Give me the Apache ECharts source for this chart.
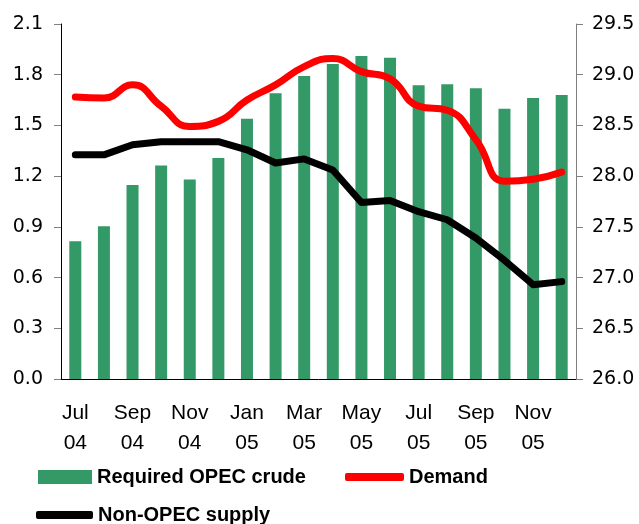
<!DOCTYPE html>
<html>
<head>
<meta charset="utf-8">
<script src="https://cdn.jsdelivr.net/npm/echarts@6/dist/echarts.min.js"></script>
<style>
html,body{margin:0;padding:0;background:#fff;}
#chart{width:639px;height:524px;}
</style>
</head>
<body>
<div id="chart"></div>
<script>
const categories = ['Jul 04','Aug 04','Sep 04','Oct 04','Nov 04','Dec 04','Jan 05','Feb 05','Mar 05','Apr 05','May 05','Jun 05','Jul 05','Aug 05','Sep 05','Oct 05','Nov 05','Dec 05'];
const requiredOpec = [0.815,0.904,1.147,1.263,1.18,1.307,1.539,1.691,1.792,1.863,1.911,1.90,1.738,1.744,1.72,1.599,1.662,1.68];
const demand = [28.78,28.77,28.90,28.69,28.49,28.54,28.75,28.90,29.08,29.16,29.03,28.96,28.69,28.65,28.36,27.95,27.97,28.04];
const nonOpec = [28.21,28.21,28.31,28.34,28.34,28.34,28.26,28.13,28.17,28.06,27.74,27.76,27.65,27.57,27.39,27.17,26.93,26.96];
const leftTicks = {min:0, max:2.1, interval:0.3};
const rightTicks = {min:26, max:29.5, interval:0.5};

const chart = echarts.init(document.getElementById('chart'));
const legendText = {fontFamily:'Liberation Sans, Arial', fontSize:20, fontWeight:'bold', color:'#000'};
chart.setOption({
  animation:false,
  grid:{left:61, right:63, top:24, bottom:145, containLabel:false},
  legend:[
    {data:[{name:'Required OPEC crude', icon:'rect'}], left:38, top:467, padding:0, itemWidth:54, itemHeight:14, itemGap:5, textStyle:legendText},
    {data:[{name:'Demand', icon:'roundRect'}], left:345, top:467, padding:0, itemWidth:59, itemHeight:8, textStyle:legendText},
    {data:[{name:'Non-OPEC supply', icon:'roundRect'}], left:36, top:505, padding:0, itemWidth:57, itemHeight:8, textStyle:legendText}
  ],
  xAxis:{
    type:'category', data:categories, boundaryGap:true,
    axisLine:{lineStyle:{color:'#000', width:1}},
    axisTick:{interval:1, length:5, lineStyle:{color:'#000'}},
    axisLabel:{interval:1, margin:19, fontFamily:'Liberation Sans, Arial', fontSize:21, color:'#000', lineHeight:30,
      formatter:v=>v.replace(' ','\n')},
    splitLine:{show:false}
  },
  yAxis:[
    {type:'value', min:leftTicks.min, max:leftTicks.max, interval:leftTicks.interval, position:'left',
     axisLine:{show:true, lineStyle:{color:'#000'}},
     axisTick:{show:true, length:7, lineStyle:{color:'#808080'}},
     axisLabel:{margin:18, fontFamily:'DejaVu Sans', fontSize:19, color:'#000', formatter:v=>v.toFixed(1)},
     splitLine:{show:false}},
    {type:'value', min:rightTicks.min, max:rightTicks.max, interval:rightTicks.interval, position:'right',
     axisLine:{show:true, lineStyle:{color:'#808080'}},
     axisTick:{show:true, length:7, lineStyle:{color:'#808080'}},
     axisLabel:{margin:16, fontFamily:'DejaVu Sans', fontSize:19, color:'#000', formatter:v=>v.toFixed(1)},
     splitLine:{show:false}}
  ],
  series:[
    {name:'Required OPEC crude', type:'bar', yAxisIndex:0, data:requiredOpec, barWidth:12, itemStyle:{color:'#339966'}},
    {name:'Demand', type:'line', yAxisIndex:1, data:demand, smooth:0.5, symbol:'none',
     lineStyle:{color:'#ff0000', width:7, cap:'round', join:'round'}, itemStyle:{color:'#ff0000'}},
    {name:'Non-OPEC supply', type:'line', yAxisIndex:1, data:nonOpec, smooth:false, symbol:'none',
     lineStyle:{color:'#000000', width:7, cap:'round', join:'round'}, itemStyle:{color:'#000000'}}
  ]
});
</script>
</body>
</html>
